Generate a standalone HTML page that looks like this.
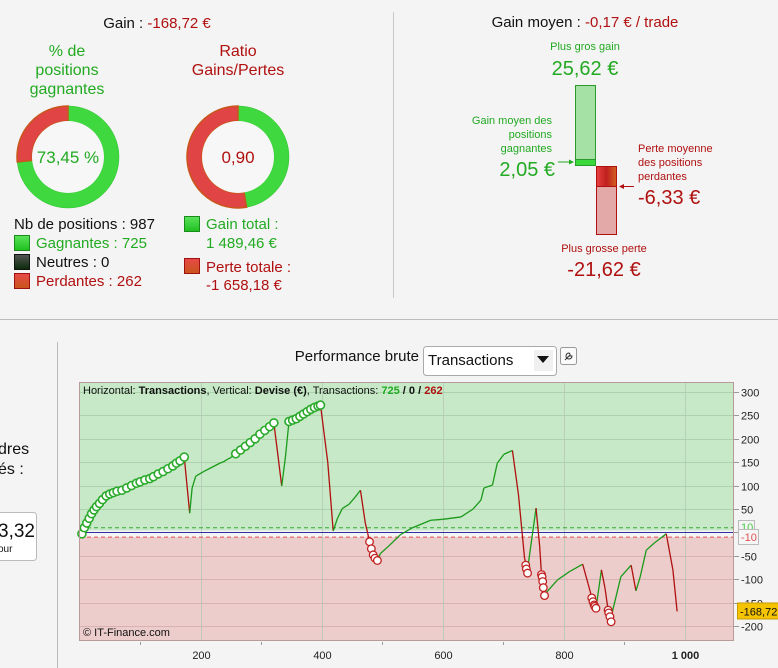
<!DOCTYPE html>
<html><head><meta charset="utf-8">
<style>
html,body{margin:0;padding:0;background:#f4f4f4;width:778px;height:668px;overflow:hidden;font-family:"Liberation Sans",sans-serif;}
svg{position:absolute;left:0;top:0;}
</style></head>
<body>
<svg id="page" width="778" height="668" viewBox="0 0 778 668" xmlns="http://www.w3.org/2000/svg" font-family="Liberation Sans, sans-serif">
<defs>
<linearGradient id="gsq" x1="0" y1="0" x2="0" y2="1"><stop offset="0" stop-color="#5be35b"/><stop offset="1" stop-color="#1fbf1f"/></linearGradient>
<linearGradient id="rsq" x1="0" y1="0" x2="0" y2="1"><stop offset="0" stop-color="#e84848"/><stop offset="1" stop-color="#c8561a"/></linearGradient>
<linearGradient id="ksq" x1="0" y1="0" x2="0" y2="1"><stop offset="0" stop-color="#555"/><stop offset="1" stop-color="#0a2a0a"/></linearGradient>
<linearGradient id="rbar" x1="0" y1="0" x2="1" y2="0"><stop offset="0" stop-color="#e84040"/><stop offset="0.5" stop-color="#c02020"/><stop offset="1" stop-color="#d06020"/></linearGradient>
</defs>

<!-- separators -->
<line x1="393.5" y1="12" x2="393.5" y2="298" stroke="#c8c8c8"/>
<line x1="0" y1="319.5" x2="778" y2="319.5" stroke="#bbb"/>
<line x1="57.5" y1="342" x2="57.5" y2="668" stroke="#bbb"/>

<!-- top-left -->
<text x="157" y="28" font-size="15" text-anchor="middle"><tspan fill="#111">Gain : </tspan><tspan fill="#b01010">-168,72 €</tspan></text>
<g font-size="16" fill="#22aa22" text-anchor="middle">
<text x="67" y="56">% de</text><text x="67" y="75">positions</text><text x="67" y="94">gagnantes</text></g>
<g font-size="16" fill="#b01010" text-anchor="middle">
<text x="238" y="56">Ratio</text><text x="238" y="75">Gains/Pertes</text></g>

<g id="donut1"></g>
<g id="donut2"></g>
<text x="68" y="163" font-size="17" fill="#22aa22" text-anchor="middle">73,45 %</text>
<text x="238" y="163" font-size="17" fill="#b01010" text-anchor="middle">0,90</text>

<text x="14" y="229" font-size="15" fill="#111">Nb de positions : 987</text>
<rect x="14.5" y="235.5" width="15" height="15" fill="url(#gsq)" stroke="#1a8a1a"/>
<text x="36" y="248" font-size="15" fill="#22aa22">Gagnantes : 725</text>
<rect x="14.5" y="254.5" width="15" height="15" fill="url(#ksq)" stroke="#111"/>
<text x="36" y="267" font-size="15" fill="#111">Neutres : 0</text>
<rect x="14.5" y="273.5" width="15" height="15" fill="url(#rsq)" stroke="#a01010"/>
<text x="36" y="286" font-size="15" fill="#b01010">Perdantes : 262</text>

<rect x="184.5" y="216.5" width="15" height="15" fill="url(#gsq)" stroke="#1a8a1a"/>
<text x="206" y="229" font-size="15" fill="#22aa22">Gain total :</text>
<text x="206" y="248" font-size="15" fill="#22aa22">1 489,46 €</text>
<rect x="184.5" y="258.5" width="15" height="15" fill="url(#rsq)" stroke="#a01010"/>
<text x="206" y="272" font-size="15" fill="#b01010">Perte totale :</text>
<text x="206" y="290" font-size="15" fill="#b01010">-1 658,18 €</text>

<!-- top-right -->
<text x="585" y="27" font-size="15" text-anchor="middle"><tspan fill="#111">Gain moyen : </tspan><tspan fill="#b01010">-0,17 € / trade</tspan></text>
<text x="585" y="50" font-size="11" fill="#22aa22" text-anchor="middle">Plus gros gain</text>
<text x="585" y="75" font-size="20" fill="#22aa22" text-anchor="middle">25,62 €</text>
<rect x="575.5" y="85.5" width="20" height="80" fill="#a5e0a5" stroke="#2a9a2a"/>
<rect x="575.5" y="159.5" width="20" height="6" fill="#3ad83a" stroke="#2a9a2a"/>
<rect x="596.5" y="166.5" width="20" height="68" fill="#e3a8a8" stroke="#b01010"/>
<rect x="596.5" y="166.5" width="20" height="20" fill="url(#rbar)" stroke="#b01010"/>
<g font-size="11" fill="#22aa22" text-anchor="end">
<text x="552" y="124">Gain moyen des</text><text x="552" y="138">positions</text><text x="552" y="152">gagnantes</text></g>
<text x="555" y="176" font-size="20" fill="#22aa22" text-anchor="end">2,05 €</text>
<line x1="558" y1="162" x2="572" y2="162" stroke="#22aa22"/>
<path d="M574 162 L569 159.5 L569 164.5Z" fill="#22aa22"/>
<g font-size="11" fill="#b01010">
<text x="638" y="152">Perte moyenne</text><text x="638" y="166">des positions</text><text x="638" y="180">perdantes</text></g>
<text x="638" y="204" font-size="20" fill="#b01010">-6,33 €</text>
<line x1="621" y1="186.5" x2="634" y2="186.5" stroke="#b01010"/>
<path d="M619 186.5 L624 184 L624 189Z" fill="#b01010"/>
<text x="604" y="252" font-size="11" fill="#b01010" text-anchor="middle">Plus grosse perte</text>
<text x="604" y="276" font-size="20" fill="#b01010" text-anchor="middle">-21,62 €</text>

<!-- bottom-left partial panel -->
<text x="-2" y="454" font-size="16" fill="#111">dres</text>
<text x="-2" y="474" font-size="16" fill="#111">és :</text>
<rect x="-6" y="512.5" width="42.5" height="48" rx="3" fill="#fff" stroke="#bbb"/>
<text x="-2" y="537" font-size="19" fill="#111">3,32</text>
<text x="-2" y="552" font-size="10" fill="#111">our</text>

<!-- chart header -->
<text x="419" y="361" font-size="15" fill="#111" text-anchor="end">Performance brute</text>
<g>
<rect x="423.5" y="346.5" width="133" height="29" rx="3" fill="#fff" stroke="#aaa"/>
<text x="428" y="361" font-size="15" fill="#111" dominant-baseline="middle">Transactions</text>
<rect x="534" y="350" width="19" height="21" fill="#f0f0f0"/>
<path d="M537 356 L549 356 L543 363Z" fill="#111"/>
</g>
<g>
<rect x="560.5" y="347.5" width="16" height="17" rx="2" fill="#fafafa" stroke="#999"/>
<path d="M565 360 L570 355 M569 353 a3 3 0 1 0 3 3 l-2 0 l0 -2z" stroke="#333" fill="none" stroke-width="1"/>
</g>

<g id="chart"></g>
</svg>

<script>
// ---- donut data ----
const winPct = 73.45;
const ratioGainLoss = [1489.46, 1658.18];

// ---- chart data ----
const txIndex = [0,4,8,12,16,20,24,28,33,38,44,50,56,62,70,78,86,94,100,108,116,122,130,138,146,154,160,166,173,
182,186,192,205,220,232,238,244,250,258,266,274,282,290,298,306,314,321,
334,340,346,352,358,364,370,376,382,388,394,398,
410,419,426,434,445,455,464,472,476,479,482,485,488,492,497,510,530,550,580,600,630,650,663,668,682,690,701,715,
725,731,735,736,737,738,740,742,754,760,763,764,765,766,768,770,789,809,831,
840,845,846,848,850,851,853,862,868,873,874,876,878,880,894,911,919,926,936,949,969,980,987];
const cumGain = [-5,-3,10,20,30,40,48,55,62,70,78,82,85,88,90,95,100,105,108,112,115,119,125,130,136,142,148,153,161,
41,95,120,130,140,148,151,156,160,168,176,184,192,200,210,218,226,234,
99,160,237,240,243,248,253,258,263,267,270,272,
150,3,30,51,60,75,90,20,-2,-20,-35,-48,-55,-60,-45,-30,-5,10,26,28,33,50,69,95,101,148,167,175,
80,-1,-55,-60,-70,-78,-87,-60,52,-30,-90,-95,-105,-118,-135,-130,-102,-84,-68,
-110,-134,-140,-148,-155,-158,-162,-80,-120,-166,-172,-180,-191,-170,-95,-70,-125,-95,-38,-23,-3,-80,-169];
const yTicks = [300,250,200,150,100,50,0,-50,-100,-150,-200];
const yTickLabels = ["300","250","200","150","100","50","","-50","-100","-150","-200"];
const xTicks = [200,400,600,800,1000];
const xTickLabels = ["200","400","600","800","1 000"];
const xMinorTicks = [100,300,500,700,900];
const bandLevels = [10,-10];
const lastValueLabel = "-168,72";

const NS = "http://www.w3.org/2000/svg";
function mk(tag, attrs, parent){const e=document.createElementNS(NS,tag);for(const k in attrs)e.setAttribute(k,attrs[k]);parent.appendChild(e);return e;}

// donuts
function arcPath(cx,cy,r0,r1,a0,a1){
  const p=(r,a)=>[cx+r*Math.sin(a),cy-r*Math.cos(a)];
  const lg=(a1-a0)>Math.PI?1:0;
  const [x0,y0]=p(r1,a0),[x1,y1]=p(r1,a1),[x2,y2]=p(r0,a1),[x3,y3]=p(r0,a0);
  return `M${x0} ${y0}A${r1} ${r1} 0 ${lg} 1 ${x1} ${y1}L${x2} ${y2}A${r0} ${r0} 0 ${lg} 0 ${x3} ${y3}Z`;
}
function donut(g,cx,cy,frac){
  const a=frac*2*Math.PI;
  const gp=mk('path',{d:arcPath(cx,cy,36,51,0,a),fill:'#3fd83f',stroke:'#2cc02c','stroke-width':'0.5'},g);
  
  
  const rp=mk('path',{d:arcPath(cx,cy,36,51,a,2*Math.PI-0.0001),fill:'#e04444',stroke:'#c8561a','stroke-width':'1.5'},g);
  
  
  const c=mk('circle',{cx:cx,cy:cy,r:36,fill:'#f7f7f7'},g);
  
  
}
donut(document.getElementById('donut1'),68,157,winPct/100);
donut(document.getElementById('donut2'),238,157,ratioGainLoss[0]/(ratioGainLoss[0]+ratioGainLoss[1]));

// chart
const ch=document.getElementById('chart');
const L=80,R=733,T=383,B=640;
const xs=i=>79.5+i*0.6055;
const ys=v=>532.4-v*0.468;
let e;
e=mk('rect',{x:L,y:T,width:R-L,height:ys(4)-T,fill:'#c7e9c7'},ch);


e=mk('rect',{x:L,y:ys(4),width:R-L,height:ys(-10)-ys(4),fill:'#f4f4f4'},ch);


e=mk('rect',{x:L,y:ys(-10),width:R-L,height:B-ys(-10),fill:'#eccdcb'},ch);


yTicks.forEach((v,k)=>{
  const y=Math.round(ys(v))+0.5;
  const gl=mk('line',{x1:L,x2:R,y1:y,y2:y,stroke:v>0?'#acd3ac':'#d8b2b0','stroke-width':1},ch);
  
  
  mk('line',{x1:R,x2:R+6,y1:y,y2:y,stroke:'#999'},ch);
  const t=mk('text',{x:R+8,y:y+4,'font-size':11,fill:'#222'},ch);
  t.textContent=yTickLabels[k];
  
  
});
xTicks.forEach((v,k)=>{
  const x=Math.round(xs(v))+0.5;
  const gl=mk('line',{x1:x,x2:x,y1:T,y2:B,stroke:'#b5c9b5','stroke-width':1,opacity:0.8},ch);
  
  
  const t=mk('text',{x:x,y:B+19,'font-size':11,fill:'#222','text-anchor':'middle','font-weight':v===1000?'bold':'normal'},ch);
  t.textContent=xTickLabels[k];
  
  
});
xMinorTicks.forEach(v=>{const x=Math.round(xs(v))+0.5;mk('line',{x1:x,x2:x,y1:B+2,y2:B+5,stroke:'#999'},ch);});
e=mk('line',{x1:L,x2:R,y1:ys(bandLevels[0]),y2:ys(bandLevels[0]),stroke:'#3aa83a','stroke-dasharray':'4 3'},ch);


e=mk('line',{x1:L,x2:R,y1:Math.round(ys(0))+0.5,y2:Math.round(ys(0))+0.5,stroke:'#3030a0'},ch);


e=mk('line',{x1:L,x2:R,y1:ys(bandLevels[1]),y2:ys(bandLevels[1]),stroke:'#e05050','stroke-dasharray':'4 3'},ch);



// series segments
for(let k=1;k<txIndex.length;k++){
  const up=cumGain[k]>=cumGain[k-1];
  const s=mk('line',{x1:xs(txIndex[k-1]),y1:ys(cumGain[k-1]),x2:xs(txIndex[k]),y2:ys(cumGain[k]),stroke:up?'#1a9a1a':'#b01010','stroke-width':1.3},ch);
  
  
}
// markers at new highs / new lows
let hi=cumGain[0],lo=cumGain[0];
for(let k=1;k<txIndex.length;k++){
  const v=cumGain[k];
  if(v>hi){hi=v;
    const c=mk('circle',{cx:xs(txIndex[k]),cy:ys(v),r:4,fill:'#fff',stroke:'#2aaa2a','stroke-width':1.6},ch);
    
    
  } else if(v<lo){lo=v;
    const c=mk('circle',{cx:xs(txIndex[k]),cy:ys(v),r:3.8,fill:'#fff',stroke:'#c02020','stroke-width':1.3},ch);
    
    
  }
}
e=mk('rect',{x:L-0.5,y:T-0.5,width:R-L+1,height:B-T+1,fill:'none',stroke:'#b89a98'},ch);



// header text inside plot
e=mk('text',{x:83,y:394,'font-size':11,fill:'#111'},ch);
e.innerHTML='Horizontal: <tspan font-weight="bold">Transactions</tspan>, Vertical: <tspan font-weight="bold">Devise (€)</tspan>, Transactions: <tspan font-weight="bold" fill="#22aa22">725</tspan><tspan font-weight="bold"> / 0 / </tspan><tspan font-weight="bold" fill="#b01010">262</tspan>';


e=mk('text',{x:83,y:636,'font-size':11,fill:'#111'},ch);
e.textContent='© IT-Finance.com';



// band labels
e=mk('rect',{x:738.5,y:520.5,width:16,height:13,fill:'#f4f4f4',stroke:'#bbb'},ch);


e=mk('text',{x:741,y:531,'font-size':11,fill:'#4c4'},ch);e.textContent='10';


e=mk('rect',{x:738.5,y:529.5,width:20,height:15,fill:'#f6f6f6',stroke:'#bbb'},ch);


e=mk('text',{x:741,y:541,'font-size':11,fill:'#e05050'},ch);e.textContent='-10';


const lastV=cumGain[cumGain.length-1];
e=mk('rect',{x:737.5,y:ys(lastV)-8.5,width:42,height:16,fill:'#f5c400',stroke:'#c89a00'},ch);


e=mk('text',{x:740,y:ys(lastV)+4,'font-size':11,fill:'#111'},ch);e.textContent=lastValueLabel;


</script>
</body></html>
